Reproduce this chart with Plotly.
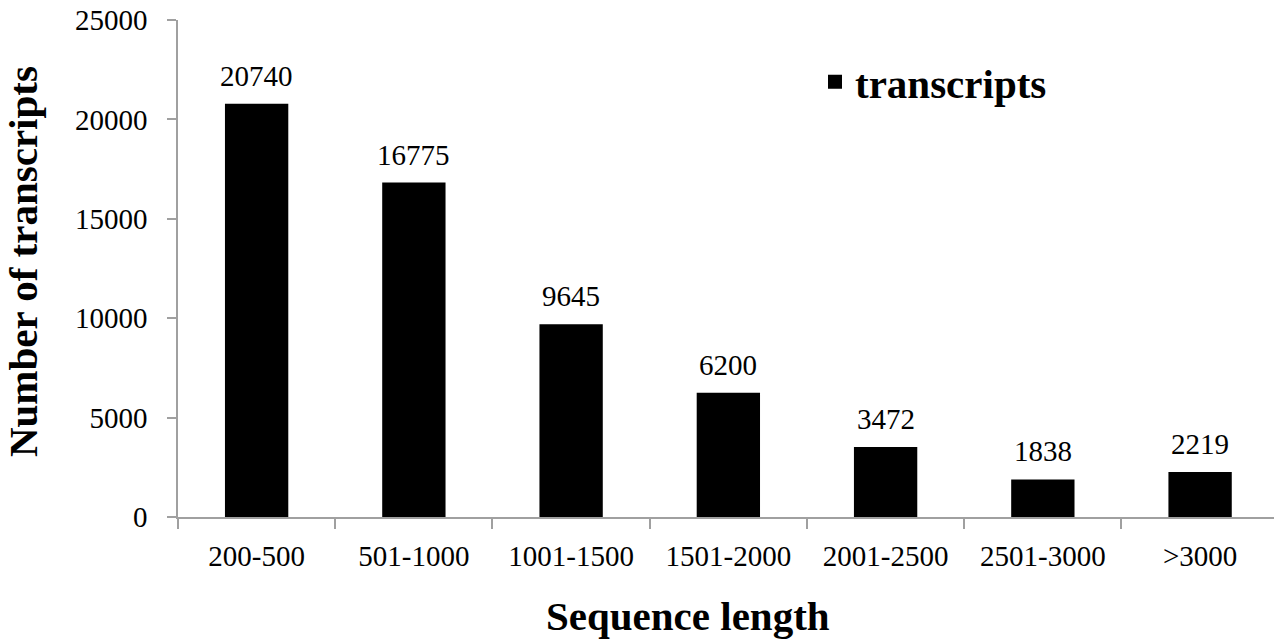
import plotly.graph_objects as go

categories = ["200-500", "501-1000", "1001-1500", "1501-2000", "2001-2500", "2501-3000", ">3000"]
values = [20740, 16775, 9645, 6200, 3472, 1838, 2219]
y_ticks = [0, 5000, 10000, 15000, 20000, 25000]
series_name = "transcripts"

FONT = "Liberation Serif, Times New Roman, serif"
AXIS_COLOR = "#a0a0a0"

fig = go.Figure()
fig.add_trace(go.Bar(
    x=categories, y=values, name=series_name,
    marker=dict(color="black", line=dict(color="black", width=2)),
    width=0.39, showlegend=True,
))

for c, v in zip(categories, values):
    fig.add_annotation(x=c, y=v, xref="x", yref="y", text=str(v), showarrow=False,
                       yanchor="bottom", yshift=11,
                       font=dict(family=FONT, size=29, color="black"))

fig.add_annotation(text="<b>Number of transcripts</b>", xref="paper", yref="paper",
                   x=-0.1414, y=0.513, textangle=-90, showarrow=False,
                   xanchor="center", yanchor="middle",
                   font=dict(family=FONT, size=41, color="black"))
fig.add_annotation(text="<b>Sequence length</b>", xref="paper", yref="paper",
                   x=0.4653, y=-0.199, showarrow=False,
                   xanchor="center", yanchor="middle",
                   font=dict(family=FONT, size=41, color="black"))

fig.update_layout(
    width=1274, height=640,
    margin=dict(l=178, r=0, t=20, b=123, autoexpand=False),
    plot_bgcolor="white", paper_bgcolor="white",
    font=dict(family=FONT, size=29, color="black"),
    legend=dict(xref="container", yref="container", x=815/1274, y=1-82/640,
                xanchor="left", yanchor="middle",
                font=dict(family=FONT, size=41, color="black", weight="bold"),
                bgcolor="rgba(0,0,0,0)"),
    xaxis=dict(type="category", range=[-0.5, 6.47], showline=True, linecolor=AXIS_COLOR,
               linewidth=1.5, ticks="outside", tickson="boundaries", ticklen=10,
               tickcolor=AXIS_COLOR, tickwidth=1.5, showgrid=False, zeroline=False,
               tickangle=0, ticklabelstandoff=12,
               tickfont=dict(family=FONT, size=29, color="black")),
    yaxis=dict(range=[0, 25000], tickvals=y_ticks, tickformat="d", showline=True,
               linecolor=AXIS_COLOR, linewidth=1.5, ticks="outside", ticklen=9,
               tickcolor=AXIS_COLOR, tickwidth=1.5, showgrid=False, zeroline=False,
               ticklabelstandoff=14,
               tickfont=dict(family=FONT, size=29, color="black")),
)
fig.update_legends(itemsizing="constant")
fig.write_html("out.html")
